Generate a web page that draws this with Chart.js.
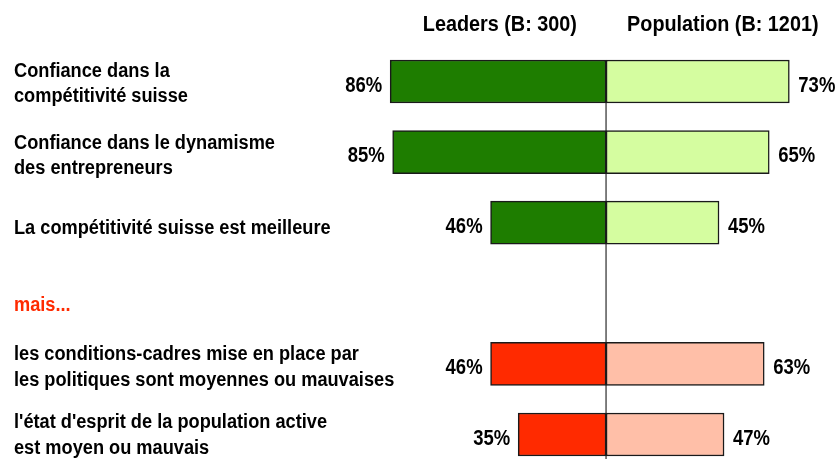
<!DOCTYPE html>
<html>
<head>
<meta charset="utf-8">
<script src="https://cdn.jsdelivr.net/npm/chart.js@4"></script>
<style>
  html, body { margin: 0; padding: 0; background: #ffffff; }
  #wrap { width: 837px; height: 459px; }
</style>
</head>
<body>
<div id="wrap"><canvas id="barChartCanvas"></canvas></div>
<script>
// categories (multi-line labels), an empty row is used for "mais..."
const categories = [
    ['Confiance dans la', 'compétitivité suisse'],
    ['Confiance dans le dynamisme', 'des entrepreneurs'],
    'La compétitivité suisse est meilleure',
    'mais...',
    ['les conditions-cadres mise en place par', 'les politiques sont moyennes ou mauvaises'],
    ["l'état d'esprit de la population active", 'est moyen ou mauvais']
];
const leaders = [86, 85, 46, null, 46, 35];
const population = [73, 65, 45, null, 63, 47];
const positive = [true, true, true, null, false, false]; // green rows vs red rows
const seriesTitles = ['Leaders (B: 300)', 'Population (B: 1201)'];

const labelFont = "'Liberation Sans', Arial, sans-serif";

// colours
const darkGreen = '#1e7d00';
const lightGreen = '#d5fda0';
const red = '#ff2a00';
const lightRed = '#ffbfa8';

const leaderColours = positive.map(p => p ? darkGreen : red);
const popColours = positive.map(p => p ? lightGreen : lightRed);

// draw text squeezed horizontally (the original uses a narrow font)
function narrowText(c, text, x, y, align, size, squeeze) {
    c.save();
    c.translate(x, y);
    c.scale(squeeze, 1);
    c.font = 'bold ' + size + 'px ' + labelFont;
    c.textAlign = align;
    c.textBaseline = 'alphabetic';
    c.fillText(text, 0, 0);
    c.restore();
}

function renderChart() {
    const ctx = document.getElementById('barChartCanvas').getContext('2d');

    const chart = new Chart(ctx, {
        type: 'bar',
        data: {
            labels: categories,
            datasets: [{
                label: seriesTitles[0],
                data: leaders.map(v => v == null ? null : -v), // leaders go to the left
                backgroundColor: leaderColours,
                borderColor: '#1a1a1a',
                borderWidth: 1.5,
                borderSkipped: false,
                barThickness: 43,
                clip: false
            }, {
                label: seriesTitles[1],
                data: population,
                backgroundColor: popColours,
                borderColor: '#1a1a1a',
                borderWidth: 1.5,
                borderSkipped: false,
                barThickness: 43,
                clip: false
            }]
        },
        options: {
            indexAxis: 'y',
            responsive: true,
            maintainAspectRatio: false,
            animation: false,
            layout: {
                padding: { left: 14, right: 5, top: 81.5, bottom: 24.5 }
            },
            scales: {
                x: {
                    display: false,
                    stacked: true,
                    min: -100,
                    max: 90
                },
                y: {
                    stacked: true,
                    offset: false,
                    grid: { display: false },
                    border: { display: false },
                    ticks: { display: false },
                    afterFit: (scale) => { scale.width = 341; } // fixed room for the labels
                }
            },
            plugins: {
                legend: { display: false },
                tooltip: { enabled: false }
            }
        },
        plugins: [{
            id: 'centreLine',
            beforeDatasetsDraw: (chart) => {
                const c = chart.ctx;
                const x = chart.scales.x.getPixelForValue(0);
                const firstBar = chart.getDatasetMeta(0).data[0];
                c.save();
                c.strokeStyle = '#555555';
                c.lineWidth = 1.5;
                c.beginPath();
                c.moveTo(x, firstBar.y - firstBar.height / 2);
                c.lineTo(x, chart.height);
                c.stroke();
                c.restore();
            }
        }, {
            id: 'categoryLabels',
            afterDraw: (chart) => {
                const c = chart.ctx;
                const yAxis = chart.scales.y;
                const lineGap = 25.5;
                // small vertical nudges, the labels in the original are not exactly centred
                const nudge = [1, 2.5, 4, 11, 2, -0.5];
                c.save();
                categories.forEach((cat, i) => {
                    const lines = Array.isArray(cat) ? cat : [cat];
                    const yc = yAxis.getPixelForValue(i) + nudge[i];
                    c.fillStyle = positive[i] === null ? red : '#000000';
                    lines.forEach((line, k) => {
                        const y = yc + (k - (lines.length - 1) / 2) * lineGap + 7;
                        narrowText(c, line, 14, y, 'left', 20, 0.91);
                    });
                });
                c.restore();
            }
        }, {
            id: 'valueLabels',
            afterDatasetsDraw: (chart) => {
                const c = chart.ctx;
                c.save();
                c.fillStyle = '#000000';
                chart.data.datasets.forEach((ds, di) => {
                    const meta = chart.getDatasetMeta(di);
                    const source = di === 0 ? leaders : population;
                    meta.data.forEach((bar, i) => {
                        if (source[i] == null) return;
                        const text = source[i] + '%';
                        if (di === 0) {
                            narrowText(c, text, bar.x - 8, bar.y + 10, 'right', 22, 0.84);
                        } else {
                            narrowText(c, text, bar.x + 9, bar.y + 10, 'left', 22, 0.84);
                        }
                    });
                });
                c.restore();
            }
        }, {
            id: 'seriesTitles',
            afterDraw: (chart) => {
                const c = chart.ctx;
                const xAxis = chart.scales.x;
                c.save();
                c.fillStyle = '#000000';
                narrowText(c, seriesTitles[0], xAxis.getPixelForValue(-42.3), 31, 'center', 22, 0.9);
                narrowText(c, seriesTitles[1], xAxis.getPixelForValue(46.5), 31, 'center', 22, 0.9);
                c.restore();
            }
        }]
    });
}

renderChart();
</script>
</body>
</html>
